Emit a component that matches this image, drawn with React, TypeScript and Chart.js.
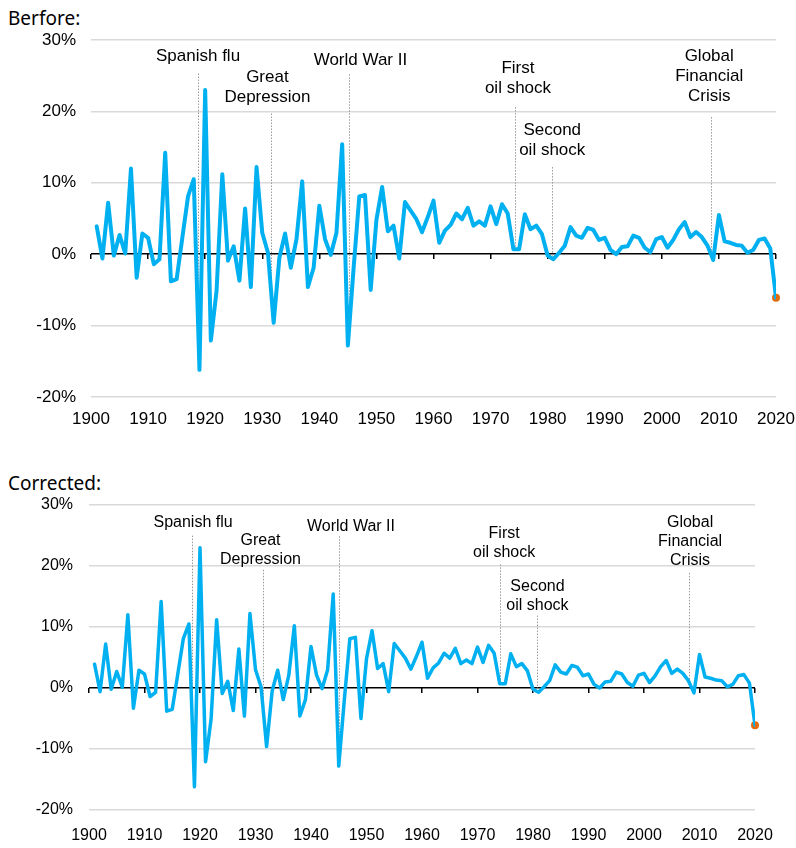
import React, { useEffect, useRef } from 'react';
import { Chart, registerables } from 'chart.js';

Chart.register(...registerables);

// ---- data ----
const firstYear = 1901;
const growth = [
  3.9, -0.6, 7.2, -0.2, 2.7, 0.1, 12.0, -3.3, 2.9, 2.3, // 1901-1910
  -1.4, -0.7, 14.2, -3.8, -3.5, 2.3, 8.1, 10.5, -16.2, 23.0, // 1911-1920
  -12.1, -5.1, 11.2, -0.9, 1.1, -3.7, 6.4, -4.6, 12.2, 3.0, // 1921-1930
  0.2, -9.6, -0.5, 2.9, -1.9, 2.1, 10.2, -4.6, -1.9, 6.8, // 1931-1940
  2.1, -0.1, 3.0, 15.4, -12.8, -2.0, 8.1, 8.3, -5.0, 4.8, // 1941-1950
  9.4, 3.2, 4.0, -0.6, 7.3, 6.1, 4.9, 3.1, 5.2, 7.5, // 1951-1960
  1.6, 3.3, 4.1, 5.7, 4.9, 6.5, 4.0, 4.6, 4.0, 6.7, // 1961-1970
  4.2, 7.0, 5.7, 0.7, 0.7, 5.6, 3.5, 4.0, 2.8, -0.2, // 1971-1980
  -0.7, 0.2, 1.2, 3.8, 2.6, 2.3, 3.7, 3.4, 2.0, 2.3, // 1981-1990
  0.6, 0.0, 1.0, 1.1, 2.6, 2.3, 0.9, 0.3, 2.1, 2.4, // 1991-2000
  0.9, 2.0, 3.5, 4.5, 2.4, 3.1, 2.4, 1.2, -0.8, 5.5, // 2001-2010
  1.8, 1.6, 1.3, 1.2, 0.2, 0.6, 2.0, 2.2, 0.8, -6.1, // 2011-2020
];
const years = growth.map((_, i) => firstYear + i);
const axisMinYear = 1900;
const axisMaxYear = 2020;
const yMin = -20;
const yMax = 30;
const yStep = 10;

const eventNames = [
  ['Spanish flu'],
  ['Great', 'Depression'],
  ['World War II'],
  ['First', 'oil shock'],
  ['Second', 'oil shock'],
  ['Global', 'Financial', 'Crisis'],
];
// event marker years as placed in each version
const eventYearsBefore = [1918.8, 1931.6, 1945.2, 1974.3, 1980.8, 2008.7];
const eventYearsCorrected = [1918.5, 1931.3, 1945.0, 1974.05, 1980.7, 2008.1];

// ---- annotation layout (axis units) ----
const eventLabelX = [1918.75, 1930.9, 1947.2, 1974.8, 1980.8, 2008.3];
const eventLabelY = [27.7, 24.8, 27.1, 26.0, 17.3, 27.7];
const eventLineTop = [25.3, 19.7, 25.2, 20.6, 12.2, 19.2];

const FONT = '"Liberation Sans", Arial, sans-serif';

type Panel = {
  top: number; height: number; padTop: number; padRight: number;
  yW: number; xH: number; font: number; gap: number; lw: number; xPad: number; yPad: number;
  labelDy: number; lineDy: number; eventYears: number[];
};

const topPanel: Panel = { top: 30, height: 410, padTop: 10, padRight: 20, yW: 91, xH: 43, font: 17, gap: 20, lw: 4, xPad: 12, yPad: 15, labelDy: 0, lineDy: 0, eventYears: eventYearsBefore };
const bottomPanel: Panel = { top: 495, height: 353, padTop: 10, padRight: 41, yW: 89, xH: 38, font: 16, gap: 19, lw: 3.5, xPad: 16, yPad: 16, labelDy: 4, lineDy: 2, eventYears: eventYearsCorrected };

function interp(yr: number) {
  const i = Math.floor(yr - firstYear);
  const f = yr - firstYear - i;
  const a = growth[Math.max(0, Math.min(growth.length - 1, i))];
  const b = growth[Math.max(0, Math.min(growth.length - 1, i + 1))];
  return a + (b - a) * f;
}

function ChartPanel({ p }: { p: Panel }) {
  const ref = useRef<HTMLCanvasElement | null>(null);
  useEffect(() => {
    if (!ref.current) return;
    const pts = growth.map((v, i) => ({ x: years[i], y: v }));
    const last = pts[pts.length - 1];
    const events = {
      id: 'events',
      beforeDatasetsDraw(chart: any) {
        const { ctx } = chart;
        const xs = chart.scales.x;
        const ys = chart.scales.y;
        ctx.save();
        p.eventYears.forEach((yr, k) => {
          const px = Math.round(xs.getPixelForValue(yr)) + 0.5;
          ctx.strokeStyle = '#9a9a9a';
          ctx.lineWidth = 1;
          ctx.setLineDash([1.5, 1.5]);
          ctx.beginPath();
          ctx.moveTo(px, ys.getPixelForValue(eventLineTop[k]) + p.lineDy);
          ctx.lineTo(px, ys.getPixelForValue(interp(yr)));
          ctx.stroke();
          ctx.setLineDash([]);
          ctx.fillStyle = '#000';
          ctx.font = `${p.font}px ${FONT}`;
          ctx.textAlign = 'center';
          ctx.textBaseline = 'middle';
          const lx = xs.getPixelForValue(eventLabelX[k]);
          const ly = ys.getPixelForValue(eventLabelY[k]) + p.labelDy;
          eventNames[k].forEach((line, j) => ctx.fillText(line, lx, ly + j * p.gap));
        });
        ctx.restore();
      },
    };
    const chart = new Chart(ref.current, {
      type: 'line',
      data: {
        datasets: [
          {
            data: pts,
            xAxisID: 'x',
            borderColor: '#00B0F0',
            borderWidth: p.lw,
            pointRadius: 0,
            tension: 0,
            borderJoinStyle: 'round',
            borderCapStyle: 'round',
          },
          {
            data: [last],
            xAxisID: 'x',
            borderColor: '#E46C0A',
            backgroundColor: '#E46C0A',
            pointRadius: 4,
            pointBorderWidth: 0,
            showLine: false,
            clip: false,
          },
        ],
      } as any,
      options: {
        responsive: false,
        animation: false,
        events: [],
        layout: { padding: { top: p.padTop, right: p.padRight, left: 0, bottom: 0 } },
        plugins: { legend: { display: false }, tooltip: { enabled: false } },
        scales: {
          x: {
            type: 'linear',
            min: axisMinYear,
            max: axisMaxYear,
            grid: { display: false, drawTicks: false },
            border: { display: false },
            ticks: {
              stepSize: 10,
              padding: p.xPad,
              color: '#000',
              font: { size: p.font, family: FONT },
              maxRotation: 0,
              autoSkip: false,
              callback: (v: any) => String(v),
            },
            afterFit: (s: any) => { s.height = p.xH; s.paddingLeft = 0; s.paddingRight = 0; },
          },
          x2: {
            type: 'linear',
            axis: 'x',
            position: { y: 0 },
            min: axisMinYear,
            max: axisMaxYear,
            grid: { drawOnChartArea: false, drawTicks: true, tickLength: 5, color: '#000', lineWidth: 1.5 },
            border: { display: false },
            ticks: { display: false, stepSize: 10 },
            afterFit: (s: any) => { s.height = 0; s.paddingLeft = 0; s.paddingRight = 0; },
          },
          y: {
            min: yMin,
            max: yMax,
            grid: {
              drawTicks: false,
              color: (c: any) => (c.tick && c.tick.value === 0 ? '#000' : '#D9D9D9'),
              lineWidth: 1.5,
            },
            border: { display: false },
            ticks: {
              stepSize: yStep,
              padding: p.yPad,
              color: '#000',
              font: { size: p.font, family: FONT },
              callback: (v: any) => v + '%',
            },
            afterFit: (s: any) => { s.width = p.yW; s.paddingTop = 0; s.paddingBottom = 0; },
          },
        },
      } as any,
      plugins: [events],
    });
    return () => chart.destroy();
  }, [p]);
  return (
    <canvas
      ref={ref}
      width={796}
      height={p.height}
      style={{ position: 'absolute', left: 0, top: p.top, width: 796, height: p.height, display: 'block' }}
    />
  );
}

const titleStyle: React.CSSProperties = {
  position: 'absolute',
  left: 8,
  fontFamily: '"Noto Sans", "Open Sans", sans-serif',
  fontSize: 19,
  lineHeight: '22px',
  color: '#000',
  whiteSpace: 'nowrap',
};

export default function App() {
  return (
    <div style={{ position: 'absolute', left: 0, top: 0, width: 796, height: 848, background: '#fff', overflow: 'hidden' }}>
      <div style={{ ...titleStyle, top: 7 }}>Berfore:</div>
      <ChartPanel p={topPanel} />
      <div style={{ ...titleStyle, top: 472 }}>Corrected:</div>
      <ChartPanel p={bottomPanel} />
    </div>
  );
}
